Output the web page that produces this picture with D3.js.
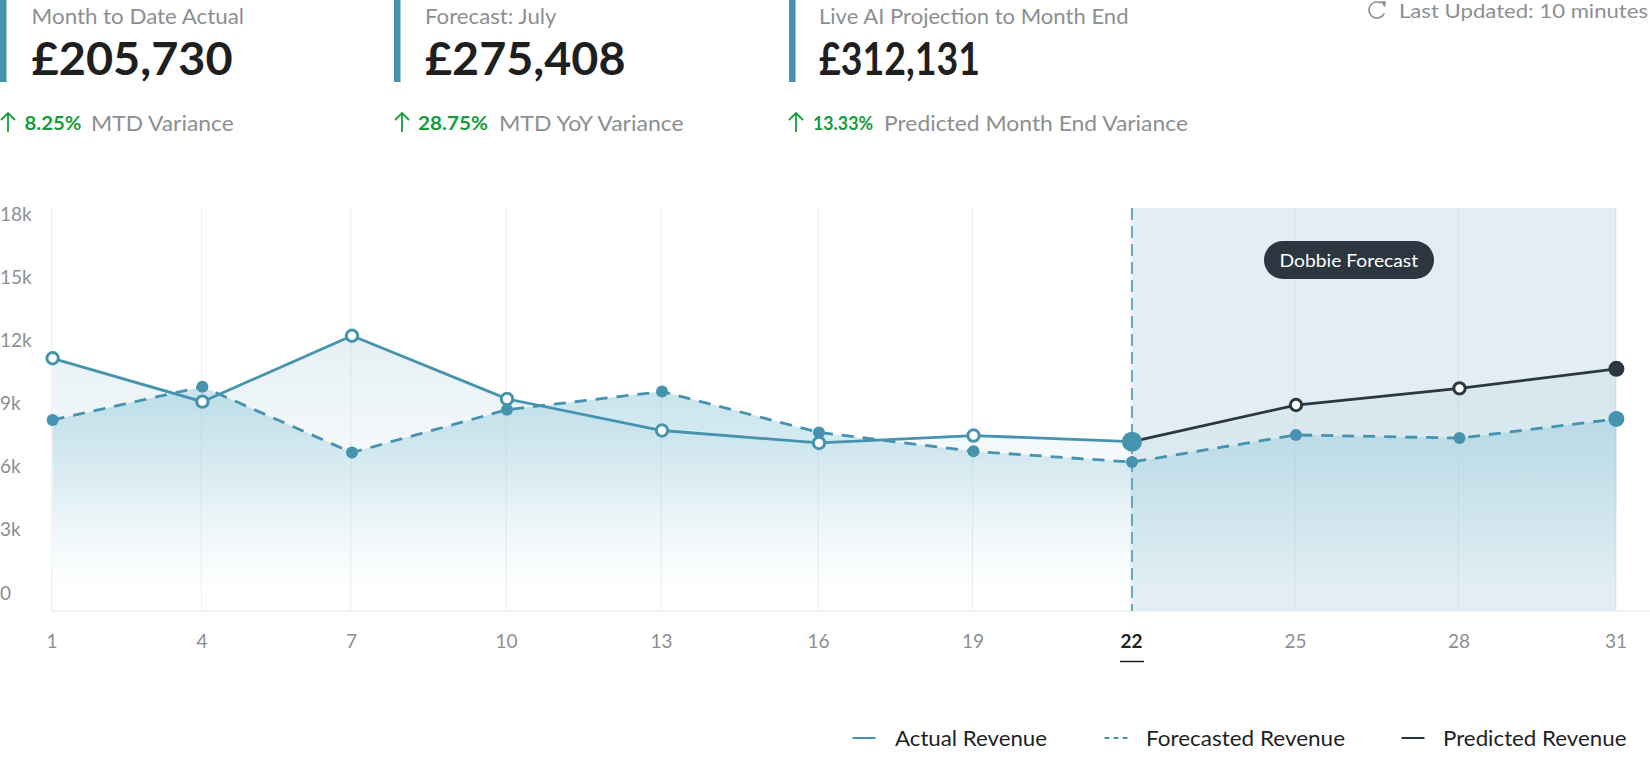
<!DOCTYPE html>
<html><head><meta charset="utf-8">
<script src="https://cdn.jsdelivr.net/npm/d3@7"></script>
<style>
html,body{margin:0;padding:0;background:#fff;overflow:hidden}
svg{display:block;font-family:Lato,"Open Sans",sans-serif}
</style></head><body><svg id="c" width="1650" height="768"></svg>
<script>
const days=[1,4,7,10,13,16,19,22,25,28,31];
const actualDays=[1,4,7,10,13,16,19,22];
const actual=[11100,9040,12170,9170,7670,7080,7430,7140];
const forecast=[8170,9750,6620,8660,9520,7580,6680,6170,7460,7310,8220];
const predictedDays=[22,25,28,31];
const predicted=[7140,8880,9670,10600];
const yTicks=[0,3000,6000,9000,12000,15000,18000];
const kpiTitles=["Month to Date Actual","Forecast: July","Live AI Projection to Month End"];
const kpiValues=["£205,730","£275,408","£312,131"];
const kpiPct=["8.25%","28.75%","13.33%"];
const kpiNotes=["MTD Variance","MTD YoY Variance","Predicted Month End Variance"];
const legendNames=["Actual Revenue","Forecasted Revenue","Predicted Revenue"];

const teal="#4593ae",dark="#2b3640",grey="#8c8f92",green="#169c3c",ink="#1f1f1f";
const svg=d3.select("#c");
const dayPx=[52.6,202.4,352,507,662,819,973.5,1132,1296,1459.5,1616.4];
const x=d3.scaleLinear().domain(days).range(dayPx);
const y=d3.scaleLinear().domain([0,18000]).range([592,213]);
const plotTop=208,plotBottom=611;

function fit(sel,w){sel.attr("textLength",w).attr("lengthAdjust","spacingAndGlyphs");return sel;}
function txt(g,s,x0,cy,w,size,fill,weight){
  return fit(g.append("text").attr("x",x0).attr("y",cy).attr("dy","0.35em").attr("font-size",size)
    .attr("fill",fill).attr("font-weight",weight||400).text(s),w);
}

const defs=svg.append("defs");
function grad(id,c,o0,y0,y1){
  const g=defs.append("linearGradient").attr("id",id).attr("gradientUnits","userSpaceOnUse")
    .attr("x1",0).attr("x2",0).attr("y1",y0).attr("y2",y1);
  g.append("stop").attr("offset",0).attr("stop-color",c).attr("stop-opacity",o0);
  g.append("stop").attr("offset",1).attr("stop-color",c).attr("stop-opacity",0);
}
grad("gA",teal,0.14,336,530);
grad("gF","#86c3d6",0.46,386,590);
grad("gP",teal,0.08,368,590);

// forecast band
svg.append("rect").attr("x",x(22)).attr("y",plotTop).attr("width",x(31)-x(22)).attr("height",plotBottom-plotTop).attr("fill","#e2eef3");

// grid
svg.append("g").selectAll("line").data(days).join("line")
  .attr("x1",d=>x(d)-1).attr("x2",d=>x(d)-1).attr("y1",plotTop).attr("y2",plotBottom)
  .attr("stroke",d=>d>22?"#d5e4ea":"#eceef0").attr("stroke-width",1);

// areas
const area=(xs)=>d3.area().x((d,i)=>x(xs[i])).y0(plotBottom).y1(d=>y(d));
svg.append("path").attr("d",area(actualDays)(actual)).attr("fill","url(#gA)");
svg.append("path").attr("d",area(predictedDays)(predicted)).attr("fill","url(#gP)");
svg.append("path").attr("d",area(days)(forecast)).attr("fill","url(#gF)");

// baseline
svg.append("line").attr("x1",51).attr("x2",1650).attr("y1",plotBottom).attr("y2",plotBottom).attr("stroke","#eeeeee").attr("stroke-width",1.5);

// divider
svg.append("line").attr("x1",x(22)).attr("x2",x(22)).attr("y1",plotTop).attr("y2",plotBottom)
  .attr("stroke",teal).attr("stroke-width",1.5).attr("stroke-dasharray","12 6");

// lines
const line=(xs)=>d3.line().x((d,i)=>x(xs[i])).y(d=>y(d));
svg.append("path").attr("d",line(days)(forecast)).attr("fill","none").attr("stroke",teal).attr("stroke-width",2.8).attr("stroke-dasharray","12 9");
svg.append("path").attr("d",line(actualDays)(actual)).attr("fill","none").attr("stroke",teal).attr("stroke-width",2.8);
svg.append("path").attr("d",line(predictedDays)(predicted)).attr("fill","none").attr("stroke",dark).attr("stroke-width",2.8);

// markers
svg.append("g").selectAll("circle").data(forecast).join("circle")
  .attr("cx",(d,i)=>x(days[i])).attr("cy",d=>y(d)).attr("r",(d,i)=>days[i]===31?8:6).attr("fill",teal);
svg.append("g").selectAll("circle").data(actual).join("circle")
  .attr("cx",(d,i)=>x(actualDays[i])).attr("cy",d=>y(d))
  .attr("r",(d,i)=>actualDays[i]===22?10:5.7)
  .attr("fill",(d,i)=>actualDays[i]===22?teal:"#fff").attr("stroke",teal).attr("stroke-width",(d,i)=>actualDays[i]===22?0:3);
svg.append("g").selectAll("circle").data(predicted.slice(1)).join("circle")
  .attr("cx",(d,i)=>x(predictedDays[i+1])).attr("cy",d=>y(d))
  .attr("r",(d,i)=>predictedDays[i+1]===31?8:5.7)
  .attr("fill",(d,i)=>predictedDays[i+1]===31?dark:"#fff").attr("stroke",dark).attr("stroke-width",(d,i)=>predictedDays[i+1]===31?0:3);

// y axis
const yAxis=svg.append("g").attr("transform","translate(0,1)").call(d3.axisLeft(y).tickValues(yTicks).tickSize(0).tickFormat(d=>d===0?"0":(d/1000)+"k"));
yAxis.select(".domain").remove();
yAxis.selectAll("text").attr("x",0).attr("text-anchor","start").attr("font-size",19).attr("font-family","Lato").attr("fill",grey);

// x axis
const xAxis=svg.append("g").attr("transform","translate(0,641)").call(d3.axisBottom(x).tickValues(days).tickSize(0).tickFormat(d=>d));
xAxis.select(".domain").remove();
xAxis.selectAll("text").attr("y",0).attr("dy","0.35em").attr("dx",-1).attr("font-size",19).attr("font-family","Lato")
  .attr("fill",d=>d===22?ink:grey).attr("font-weight",d=>d===22?700:400);
svg.append("line").attr("x1",x(22)-12).attr("x2",x(22)+12).attr("y1",661.5).attr("y2",661.5).attr("stroke",ink).attr("stroke-width",1.5);

// forecast pill
svg.append("rect").attr("x",1264).attr("y",241).attr("width",170).attr("height",38).attr("rx",19).attr("fill",dark);
txt(svg,"Dobbie Forecast",1279.6,260.5,138.5,18,"#fff");

// KPI blocks
const barX=[0,394,789],titleX=[31.6,425,819],titleW=[212.5,131.5,309.5],valueW=[201,200.5,161];
const arrowX=[0,394,788],pctX=[24.5,418,813],pctW=[57,70,60],noteX=[91,499,884],noteW=[142.7,184.7,304];
kpiTitles.forEach((t,i)=>{
  const g=svg.append("g");
  g.append("rect").attr("x",barX[i]).attr("y",0).attr("width",6.5).attr("height",82).attr("fill",teal);
  txt(g,t,titleX[i],16.5,titleW[i],21,grey);
  txt(g,kpiValues[i],titleX[i],59,valueW[i],46,ink,700);
  const a=arrowX[i];
  g.append("path").attr("d",`M${a+8} 132V113M${a+1} 120L${a+8} 113L${a+15} 120`).attr("fill","none").attr("stroke",green).attr("stroke-width",1.8);
  txt(g,kpiPct[i],pctX[i],123.5,pctW[i],19.5,green,700);
  txt(g,kpiNotes[i],noteX[i],123.5,noteW[i],21,grey);
});

// last updated
svg.append("path").attr("d",d3.arc().innerRadius(7.2).outerRadius(8.8).startAngle(2).endAngle(2*Math.PI+0.5)()).attr("transform","translate(1377,10)").attr("fill",grey);
svg.append("path").attr("d","M1380 1L1386 1.5L1385 7.5Z").attr("fill",grey);
txt(svg,"Last Updated: 10 minutes",1399,11,249,19,grey);

// legend
const lgLine=[852.5,1104.5,1401.5],lgText=[895,1146,1443],lgW=[152,199,183.5],lgCol=[teal,teal,dark];
legendNames.forEach((n,i)=>{
  svg.append("line").attr("x1",lgLine[i]).attr("x2",lgLine[i]+23).attr("y1",738).attr("y2",738)
    .attr("stroke",lgCol[i]).attr("stroke-width",2).attr("stroke-dasharray",i===1?"5 4":null);
  txt(svg,n,lgText[i],739,lgW[i],21,ink);
});
</script></body></html>
